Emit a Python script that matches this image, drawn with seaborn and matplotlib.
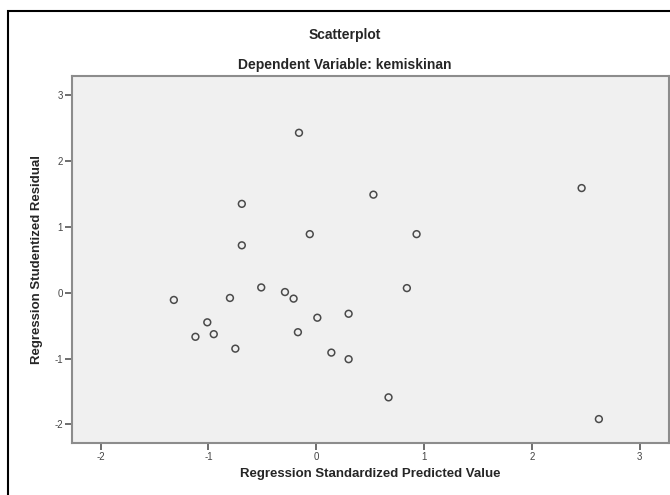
import matplotlib
matplotlib.use("Agg")
import matplotlib.pyplot as plt
import seaborn as sns
import pandas as pd
from matplotlib.patches import Rectangle

# Values
predicted = [-1.32, -1.01, -1.12, -0.95, -0.75, -0.80, -0.69, -0.69,
             -0.51, -0.29, -0.21, -0.17, -0.16, -0.06, 0.01, 0.14,
             0.30, 0.30, 0.53, 0.67, 0.84, 0.93, 2.46, 2.62]
residual = [-0.11, -0.45, -0.67, -0.63, -0.85, -0.08, 1.35, 0.72,
            0.08, 0.01, -0.09, -0.60, 2.43, 0.89, -0.38, -0.91,
            -0.32, -1.01, 1.49, -1.59, 0.07, 0.89, 1.59, -1.92]
xticks = [-2, -1, 0, 1, 2, 3]
yticks = [-2, -1, 0, 1, 2, 3]

df = pd.DataFrame({"pred": predicted, "resid": residual})

sns.set_style("white")
plt.rcParams["font.family"] = ["Liberation Sans", "DejaVu Sans"]
plt.rcParams["axes.unicode_minus"] = False

fig = plt.figure(figsize=(6.7, 4.95), dpi=100)
ax = fig.add_axes([0.1075, 0.105, 0.891, 0.7415])

sns.scatterplot(data=df, x="pred", y="resid", ax=ax, marker="o", s=24,
                fc="none", ec="#4a4a4a", linewidth=1.1)

ax.set_facecolor("#f0f0f0")
ax.set_xlim(-2.264, 3.27)
ax.set_ylim(-2.284, 3.293)
ax.set_xticks(xticks)
ax.set_yticks(yticks)
ax.tick_params(axis="both", direction="out", length=5, width=1.2,
               color="#555555", labelsize=7, labelcolor="#444444", pad=1.5,
               bottom=True, left=True)
for sp in ax.spines.values():
    sp.set_color("#8c8c8c")
    sp.set_linewidth(1.5)

ax.set_xlabel("Regression Standardized Predicted Value", fontsize=9.5,
              fontweight="bold", labelpad=4)
ax.set_ylabel("Regression Studentized Residual", fontsize=9.5,
              fontweight="bold", labelpad=8)

fig.text(0.515, 1 - 35 / 495, "Scatterplot", ha="center", va="center",
         fontsize=10, fontweight="bold")
fig.text(0.515, 1 - 65 / 495, "Dependent Variable: kemiskinan", ha="center",
         va="center", fontsize=10, fontweight="bold")

# outer frame of the output window
fig.patches.append(Rectangle((8 / 670, -0.1), 1.2, 0.1 + (495 - 11) / 495,
                             transform=fig.transFigure, fill=False,
                             edgecolor="black", linewidth=1.5))

fig.savefig("out.png", dpi=100)
plt.close(fig)
